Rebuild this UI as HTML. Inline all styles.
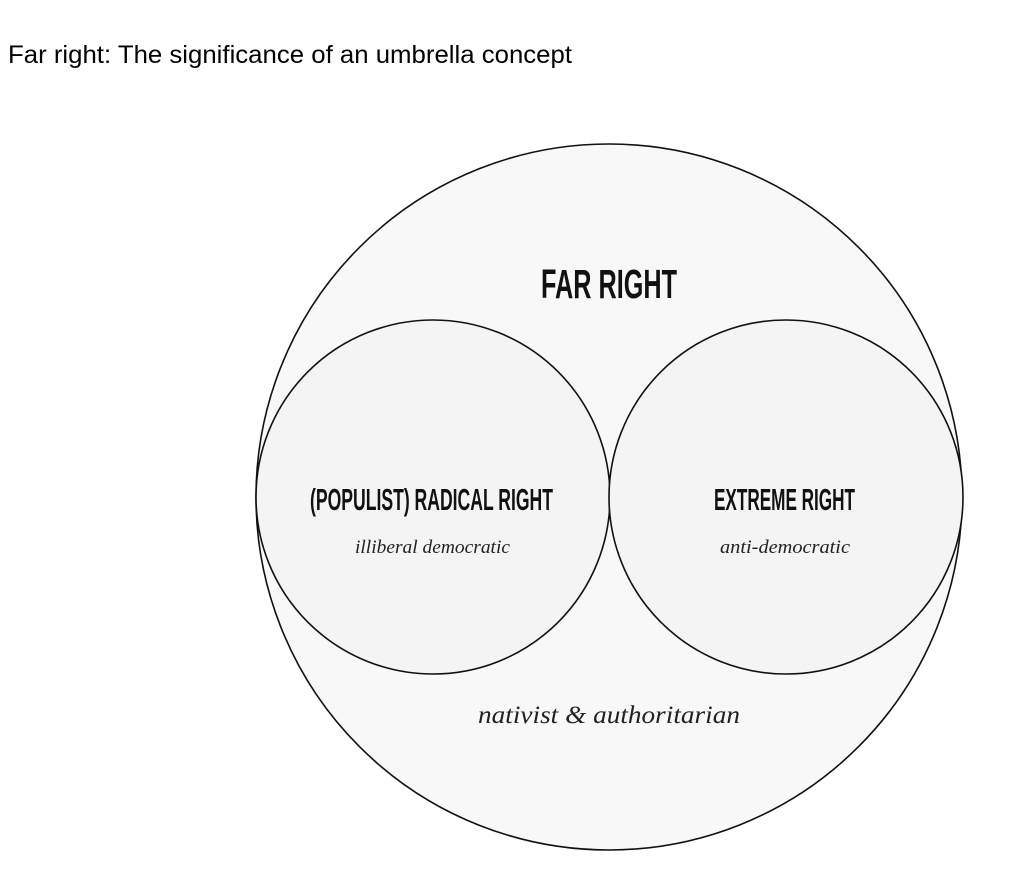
<!DOCTYPE html>
<html><head><meta charset="utf-8"><style>
body{margin:0;background:#fff;width:1024px;height:876px;overflow:hidden}
</style></head><body>
<svg width="1024" height="876" xmlns="http://www.w3.org/2000/svg">
<text x="8" y="63" font-family="Liberation Sans, sans-serif" font-size="25" textLength="564" lengthAdjust="spacingAndGlyphs" fill="#000">Far right: The significance of an umbrella concept</text>
<circle cx="609" cy="497" r="353" fill="#f8f8f8" stroke="#111" stroke-width="1.6"/>
<circle cx="433" cy="497" r="177" fill="#f4f4f4" stroke="#111" stroke-width="1.6"/>
<circle cx="786" cy="497" r="177" fill="#f4f4f4" stroke="#111" stroke-width="1.6"/>
<text x="541" y="298" font-family="Liberation Sans Narrow, Liberation Sans, sans-serif" font-weight="bold" font-size="41" textLength="136" lengthAdjust="spacingAndGlyphs" fill="#111">FAR RIGHT</text>
<text x="310" y="510" font-family="Liberation Sans Narrow, Liberation Sans, sans-serif" font-weight="bold" font-size="31" textLength="243" lengthAdjust="spacingAndGlyphs" fill="#111">(POPULIST) RADICAL RIGHT</text>
<text x="714" y="510" font-family="Liberation Sans Narrow, Liberation Sans, sans-serif" font-weight="bold" font-size="31" textLength="141" lengthAdjust="spacingAndGlyphs" fill="#111">EXTREME RIGHT</text>
<text x="355" y="553" font-family="Liberation Serif, serif" font-style="italic" font-size="19" textLength="155" lengthAdjust="spacingAndGlyphs" fill="#222">illiberal democratic</text>
<text x="720" y="553" font-family="Liberation Serif, serif" font-style="italic" font-size="19" textLength="130" lengthAdjust="spacingAndGlyphs" fill="#222">anti-democratic</text>
<text x="478" y="723" font-family="Liberation Serif, serif" font-style="italic" font-size="25" textLength="262" lengthAdjust="spacingAndGlyphs" fill="#222">nativist &amp; authoritarian</text>
</svg>
</body></html>
